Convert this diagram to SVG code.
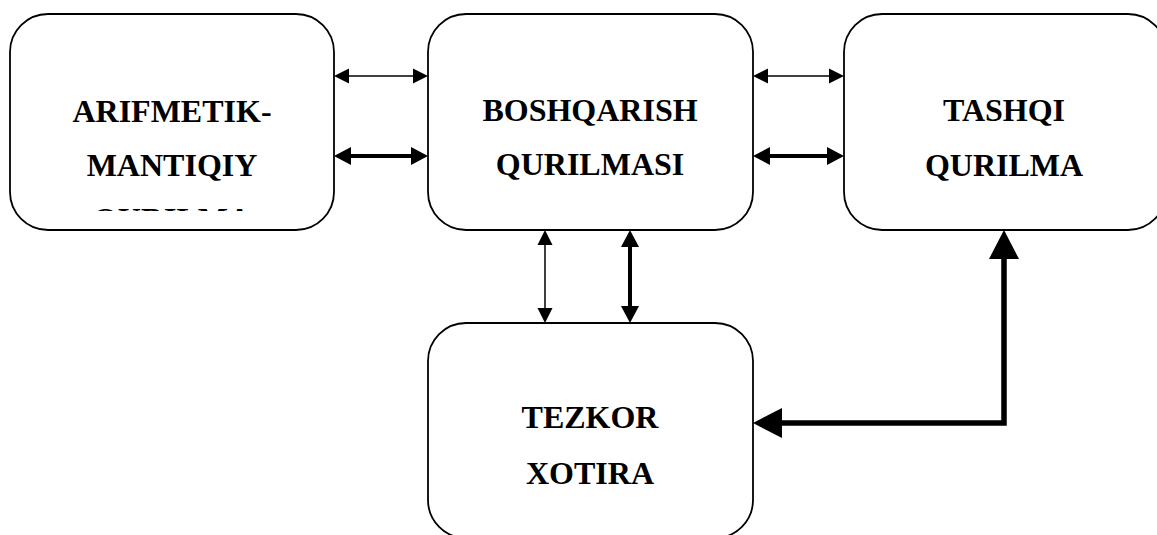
<svg xmlns="http://www.w3.org/2000/svg" width="1157" height="535" viewBox="0 0 1157 535">
  <style>
    .box { fill: #fff; stroke: #000; stroke-width: 1.8; }
    .lbl { font-family: "Liberation Serif", "Times New Roman", serif; font-weight: bold; font-size: 32px; fill: #000; text-anchor: middle; }
    .thin { fill: none; stroke: #000; stroke-width: 1.5; marker-start: url(#headThin); marker-end: url(#headThin); }
    .thick { fill: none; stroke: #000; stroke-width: 4; marker-start: url(#headThick); marker-end: url(#headThick); }
    .bus { fill: none; stroke: #000; stroke-width: 5.5; stroke-linejoin: miter; marker-start: url(#headBus); marker-end: url(#headBus); }
  </style>
  <defs>
    <marker id="headThin" markerUnits="userSpaceOnUse" viewBox="0 -8 15 16" refX="0" refY="0" markerWidth="15" markerHeight="16" orient="auto-start-reverse">
      <path d="M0,-7.5 L15,0 L0,7.5 Z" fill="#000"/>
    </marker>
    <marker id="headThick" markerUnits="userSpaceOnUse" viewBox="0 -9 17 18" refX="0" refY="0" markerWidth="17" markerHeight="18" orient="auto-start-reverse">
      <path d="M0,-9 L17,0 L0,9 Z" fill="#000"/>
    </marker>
    <marker id="headBus" markerUnits="userSpaceOnUse" viewBox="0 -15 29 30" refX="0" refY="0" markerWidth="29" markerHeight="30" orient="auto-start-reverse">
      <path d="M0,-15 L29,0 L0,15 Z" fill="#000"/>
    </marker>
    <clipPath id="alu-clip">
      <rect x="10" y="14" width="324" height="197"/>
    </clipPath>
  </defs>

  <!-- arithmetic-logic unit -->
  <g id="alu">
    <rect class="box" x="10" y="14" width="324" height="216" rx="38" ry="38"/>
    <g clip-path="url(#alu-clip)">
      <text class="lbl" x="172" y="122">ARIFMETIK-</text>
      <text class="lbl" x="172" y="176">MANTIQIY</text>
      <text class="lbl" x="172" y="230">QURILMA</text>
    </g>
  </g>

  <!-- control unit -->
  <g id="control">
    <rect class="box" x="428" y="14" width="325" height="216" rx="38" ry="38"/>
    <text class="lbl" x="590" y="121">BOSHQARISH</text>
    <text class="lbl" x="590" y="175">QURILMASI</text>
  </g>

  <!-- external device -->
  <g id="external">
    <rect class="box" x="844" y="14" width="322" height="216" rx="38" ry="38"/>
    <text class="lbl" x="1004" y="121">TASHQI</text>
    <text class="lbl" x="1004" y="176">QURILMA</text>
  </g>

  <!-- main memory -->
  <g id="memory">
    <rect class="box" x="428" y="323" width="325" height="215" rx="38" ry="38"/>
    <text class="lbl" x="590" y="428">TEZKOR</text>
    <text class="lbl" x="590" y="484">XOTIRA</text>
  </g>

  <!-- connectors -->
  <g id="connectors">
    <path class="thin" d="M349,76 H413"/>
    <path class="thick" d="M351,156 H411"/>
    <path class="thin" d="M768,76 H829"/>
    <path class="thick" d="M770,156 H827"/>
    <path class="thin" d="M545,245 V308"/>
    <path class="thick" d="M630,247 V306"/>
    <path class="bus" d="M782,423 H1004 V259"/>
  </g>
</svg>
